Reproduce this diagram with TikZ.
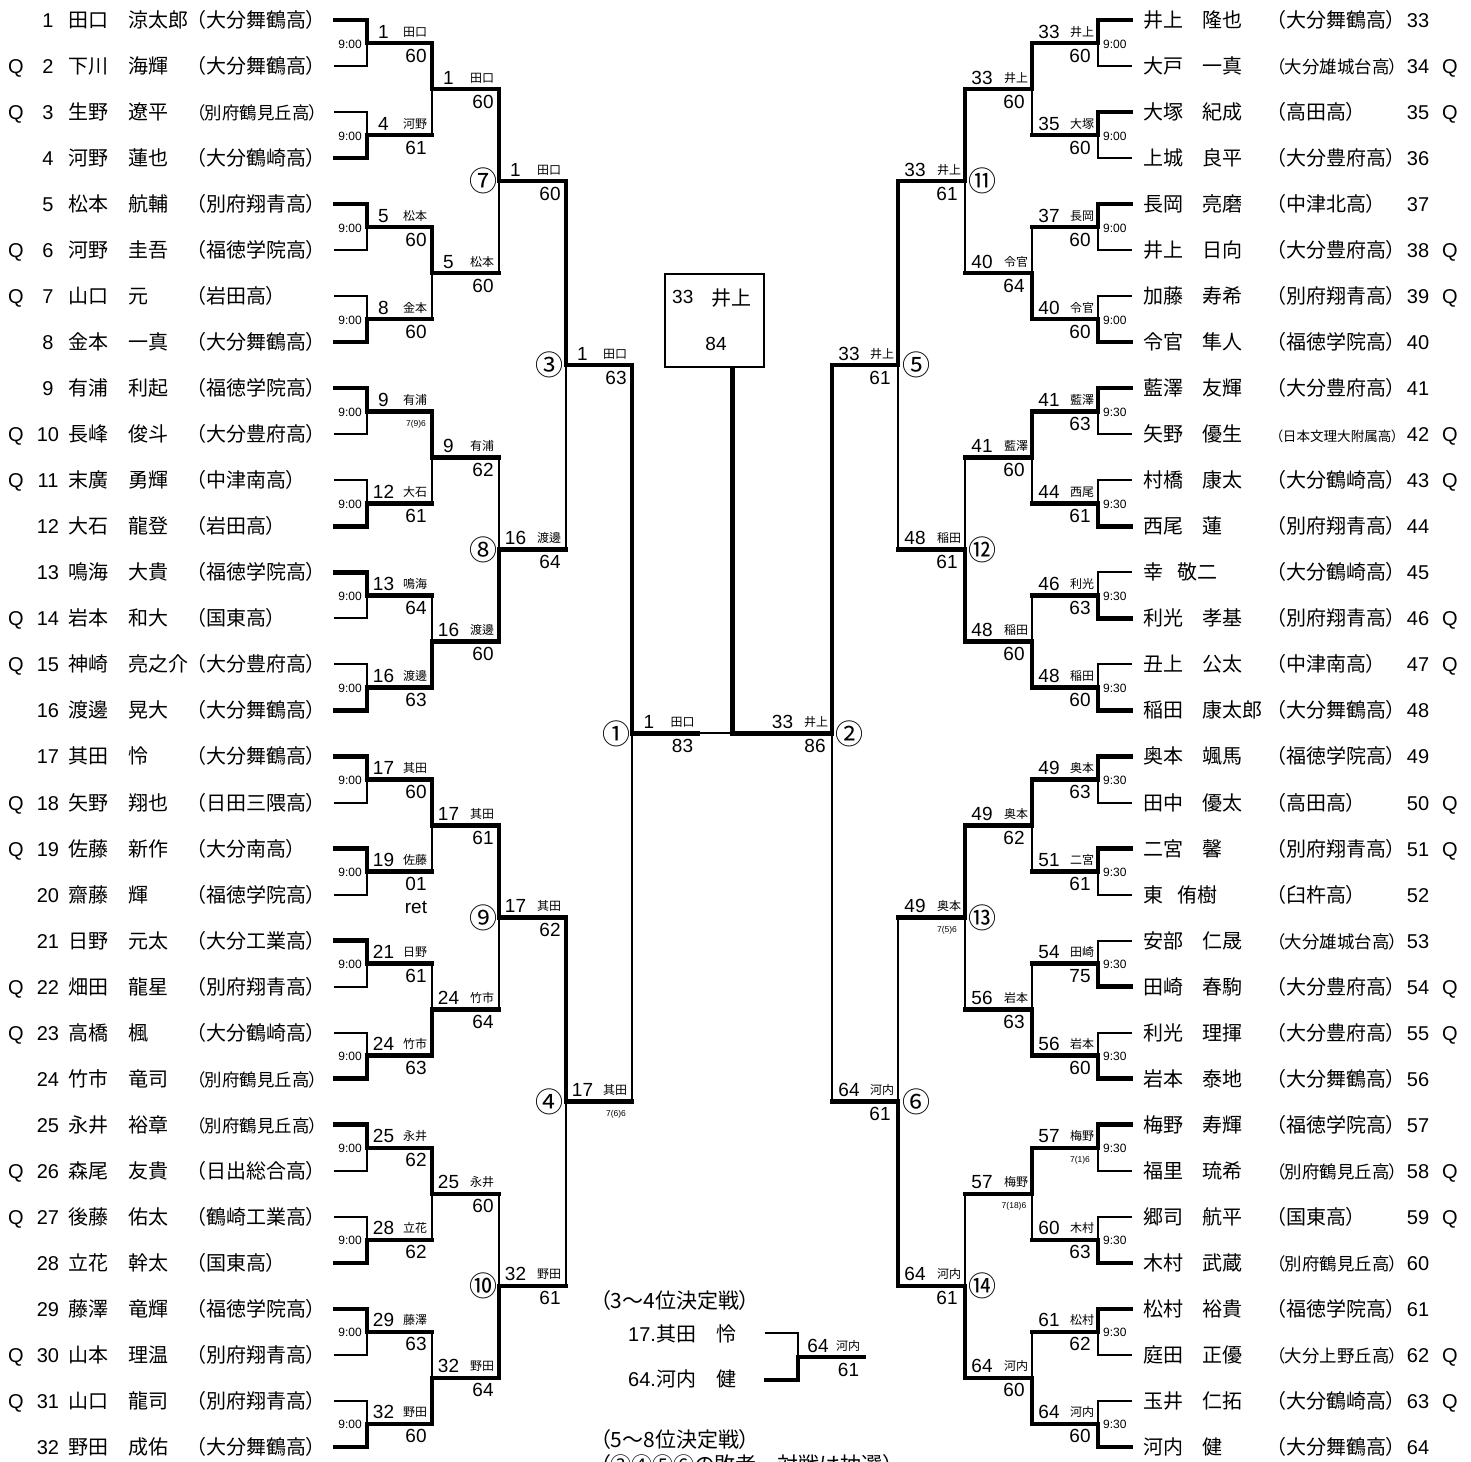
\documentclass[tikz,border=0pt]{standalone}
\usepackage{fontspec}
\usepackage{graphicx}
\setmainfont{Liberation Sans}
\newfontfamily\jp{Noto Sans CJK JP}
\newfontfamily\jpp[RawFeature=+palt]{Noto Sans CJK JP}
\newcommand\xl[1]{\ifcase#1 333\or 367\or 432\or 499\or 566\or 632\or 698\fi}
\newcommand\xr[1]{\ifcase#1 1133\or 1098\or 1032\or 965\or 898\or 832\or 766\fi}
\newsavebox\schbox
\newcommand\school[1]{\sbox\schbox{\jpp （#1）}\ifdim\wd\schbox>122pt\relax\resizebox{122pt}{!}{\usebox\schbox}\else\usebox\schbox\fi}
\newcommand\tbk[1]{\raisebox{4pt}{\fontsize{8.5}{9}\selectfont #1}}
\tikzset{
  thn/.style={line width=2pt, line cap=rect},
  thk/.style={line width=4.5pt, line cap=rect},
  pnum/.style={font=\fontsize{20}{24}\selectfont, inner sep=0pt, anchor=base},
  pname/.style={font=\jp\fontsize{20}{24}\selectfont, inner sep=0pt, anchor=base west},
  wnum/.style={font=\fontsize{19}{22}\selectfont, inner sep=0pt, anchor=base},
  sname/.style={font=\jp\fontsize{12}{14}\selectfont, inner sep=0pt, anchor=base},
  score/.style={font=\fontsize{19}{22}\selectfont, inner sep=0pt, anchor=base},
  tm/.style={font=\fontsize{12}{14}\selectfont, inner sep=0pt},
  circ/.style={font=\jp\fontsize{28}{30}\selectfont, inner sep=0pt, anchor=center},
  hdr/.style={font=\jpp\fontsize{21}{24}\selectfont, inner sep=0pt, anchor=base west},
}
\newcommand\Lmatch[6]{%
  \pgfmathsetmacro\bya{20+46.03*((2*#2-2)*2^(#1-1)+(2^(#1-1)-1)/2)}%
  \pgfmathsetmacro\byb{20+46.03*((2*#2-1)*2^(#1-1)+(2^(#1-1)-1)/2)}%
  \pgfmathsetmacro\bym{20+46.03*((#2-1)*2^(#1)+(2^(#1)-1)/2)}%
  \pgfmathtruncatemacro\bnn{#1+1}%
  \edef\bva{\xl{#1}}\edef\bvb{\xl{\bnn}}%
  \coordinate (L#1-#2t) at (\bva,\bya);
  \coordinate (L#1-#2b) at (\bva,\byb);
  \coordinate (L#1-#2m) at (\bva,\bym);
  \coordinate (L#1-#2o) at (\bvb,\bym);
  \draw[thn] (L#1-#2t) -- (L#1-#2b);
  \ifnum#3=0 \draw[thk] (L#1-#2t) -- (L#1-#2m) -- (L#1-#2o);\else\draw[thk] (L#1-#2b) -- (L#1-#2m) -- (L#1-#2o);\fi
  \node[wnum] (L#1-#2n) at (\bva+16.5,\bym-5) {#4};
  \node[sname] (L#1-#2s) at (\bvb-17,\bym-7) {#5};
  \node[score] (L#1-#2c) at (\bvb-16,\bym+19) {#6};
}
\newcommand\Rmatch[6]{%
  \pgfmathsetmacro\bya{20+46.03*((2*#2-2)*2^(#1-1)+(2^(#1-1)-1)/2)}%
  \pgfmathsetmacro\byb{20+46.03*((2*#2-1)*2^(#1-1)+(2^(#1-1)-1)/2)}%
  \pgfmathsetmacro\bym{20+46.03*((#2-1)*2^(#1)+(2^(#1)-1)/2)}%
  \pgfmathtruncatemacro\bnn{#1+1}%
  \edef\bva{\xr{#1}}\edef\bvb{\xr{\bnn}}%
  \coordinate (R#1-#2t) at (\bva,\bya);
  \coordinate (R#1-#2b) at (\bva,\byb);
  \coordinate (R#1-#2m) at (\bva,\bym);
  \coordinate (R#1-#2o) at (\bvb,\bym);
  \draw[thn] (R#1-#2t) -- (R#1-#2b);
  \ifnum#3=0 \draw[thk] (R#1-#2t) -- (R#1-#2m) -- (R#1-#2o);\else\draw[thk] (R#1-#2b) -- (R#1-#2m) -- (R#1-#2o);\fi
  \node[wnum] (R#1-#2n) at (\bvb+17,\bym-5) {#4};
  \node[sname] (R#1-#2s) at (\bva-16,\bym-7) {#5};
  \node[score] (R#1-#2c) at (\bva-18,\bym+19) {#6};
}
\begin{document}
\begin{tikzpicture}[x=1pt,y=-1pt]
\fill[white] (0,0) rectangle (1471,1461);
\useasboundingbox (0,0) rectangle (1471,1461);
% ---------- left players
\foreach \i/\q/\sn/\gn/\sc/\w in {
1/{}/田口/涼太郎/大分舞鶴高/1,
2/Q/下川/海輝/大分舞鶴高/0,
3/Q/生野/遼平/別府鶴見丘高/0,
4/{}/河野/蓮也/大分鶴崎高/1,
5/{}/松本/航輔/別府翔青高/1,
6/Q/河野/圭吾/福徳学院高/0,
7/Q/山口/元/岩田高/0,
8/{}/金本/一真/大分舞鶴高/1,
9/{}/有浦/利起/福徳学院高/1,
10/Q/長峰/俊斗/大分豊府高/0,
11/Q/末廣/勇輝/中津南高/0,
12/{}/大石/龍登/岩田高/1,
13/{}/鳴海/大貴/福徳学院高/1,
14/Q/岩本/和大/国東高/0,
15/Q/神崎/亮之介/大分豊府高/0,
16/{}/渡邊/晃大/大分舞鶴高/1,
17/{}/其田/怜/大分舞鶴高/1,
18/Q/矢野/翔也/日田三隈高/0,
19/Q/佐藤/新作/大分南高/1,
20/{}/齋藤/輝/福徳学院高/0,
21/{}/日野/元太/大分工業高/1,
22/Q/畑田/龍星/別府翔青高/0,
23/Q/高橋/楓/大分鶴崎高/0,
24/{}/竹市/竜司/別府鶴見丘高/1,
25/{}/永井/裕章/別府鶴見丘高/1,
26/Q/森尾/友貴/日出総合高/0,
27/Q/後藤/佑太/鶴崎工業高/0,
28/{}/立花/幹太/国東高/1,
29/{}/藤澤/竜輝/福徳学院高/1,
30/Q/山本/理温/別府翔青高/0,
31/Q/山口/龍司/別府翔青高/0,
32/{}/野田/成佑/大分舞鶴高/1}{
  \pgfmathsetmacro\py{20+46.03*(\i-1)}
  \coordinate (LPa\i) at (335,\py);
  \coordinate (LPb\i) at (367,\py);
  \ifnum\w=1 \draw[thk] (LPa\i) -- (LPb\i);\else\draw[thn] (LPa\i) -- (LPb\i);\fi
  \node[pnum] (LPq\i) at (16,\py+7.5) {\q};
  \node[pnum] (LPn\i) at (48,\py+7.5) {\i};
  \node[pname] (LPs\i) at (68,\py+7.5) {\sn};
  \node[pname] (LPg\i) at (128,\py+7.5) {\gn};
  \node[pname] (LPc\i) at (196,\py+7.5) {\school{\sc}};
}
% ---------- right players
\foreach \i/\q/\sn/\gn/\gx/\sc/\w in {
33/{}/井上/隆也/1202/大分舞鶴高/1,
34/Q/大戸/一真/1202/大分雄城台高/0,
35/Q/大塚/紀成/1202/高田高/1,
36/{}/上城/良平/1202/大分豊府高/0,
37/{}/長岡/亮磨/1202/中津北高/1,
38/Q/井上/日向/1202/大分豊府高/0,
39/Q/加藤/寿希/1202/別府翔青高/0,
40/{}/令官/隼人/1202/福徳学院高/1,
41/{}/藍澤/友輝/1202/大分豊府高/1,
42/Q/矢野/優生/1202/日本文理大附属高/0,
43/Q/村橋/康太/1202/大分鶴崎高/0,
44/{}/西尾/蓮/1202/別府翔青高/1,
45/{}/幸/敬二/1177/大分鶴崎高/0,
46/Q/利光/孝基/1202/別府翔青高/1,
47/Q/丑上/公太/1202/中津南高/0,
48/{}/稲田/康太郎/1202/大分舞鶴高/1,
49/{}/奥本/颯馬/1202/福徳学院高/1,
50/Q/田中/優太/1202/高田高/0,
51/Q/二宮/馨/1202/別府翔青高/1,
52/{}/東/侑樹/1177/臼杵高/0,
53/{}/安部/仁晟/1202/大分雄城台高/0,
54/Q/田崎/春駒/1202/大分豊府高/1,
55/Q/利光/理揮/1202/大分豊府高/0,
56/{}/岩本/泰地/1202/大分舞鶴高/1,
57/{}/梅野/寿輝/1202/福徳学院高/1,
58/Q/福里/琉希/1202/別府鶴見丘高/0,
59/Q/郷司/航平/1202/国東高/0,
60/{}/木村/武蔵/1202/別府鶴見丘高/1,
61/{}/松村/裕貴/1202/福徳学院高/1,
62/Q/庭田/正優/1202/大分上野丘高/0,
63/Q/玉井/仁拓/1202/大分鶴崎高/0,
64/{}/河内/健/1202/大分舞鶴高/1}{
  \pgfmathsetmacro\py{20+46.03*(\i-33)}
  \coordinate (RPa\i) at (1131,\py);
  \coordinate (RPb\i) at (1098,\py);
  \ifnum\w=1 \draw[thk] (RPa\i) -- (RPb\i);\else\draw[thn] (RPa\i) -- (RPb\i);\fi
  \node[pname] (RPs\i) at (1143,\py+7.5) {\sn};
  \node[pname] (RPg\i) at (\gx,\py+7.5) {\gn};
  \node[pname] (RPc\i) at (1276,\py+7.5) {\school{\sc}};
  \node[pnum] (RPn\i) at (1418,\py+7.5) {\i};
  \node[pnum] (RPq\i) at (1450,\py+7.5) {\q};
}
% ---------- times
\foreach \k in {1,...,16}{
  \pgfmathsetmacro\bym{20+46.03*(2*\k-1.5)}
  \node[tm,anchor=base east] (LT\k) at (362,\bym+5) {9:00};
  \node[tm,anchor=base west] (RT\k) at (1103,\bym+5) {\ifnum\k<5 9:00\else 9:30\fi};
}
% ---------- left rounds
\Lmatch{1}{1}{0}{1}{田口}{60}
\Lmatch{1}{2}{1}{4}{河野}{61}
\Lmatch{1}{3}{0}{5}{松本}{60}
\Lmatch{1}{4}{1}{8}{金本}{60}
\Lmatch{1}{5}{0}{9}{有浦}{\tbk{7(9)6}}
\Lmatch{1}{6}{1}{12}{大石}{61}
\Lmatch{1}{7}{0}{13}{鳴海}{64}
\Lmatch{1}{8}{1}{16}{渡邊}{63}
\Lmatch{1}{9}{0}{17}{其田}{60}
\Lmatch{1}{10}{0}{19}{佐藤}{01}
\Lmatch{1}{11}{0}{21}{日野}{61}
\Lmatch{1}{12}{1}{24}{竹市}{63}
\Lmatch{1}{13}{0}{25}{永井}{62}
\Lmatch{1}{14}{1}{28}{立花}{62}
\Lmatch{1}{15}{0}{29}{藤澤}{63}
\Lmatch{1}{16}{1}{32}{野田}{60}
\node[score] (Lret) at ([yshift=-23pt]L1-10c.base) {ret};
\Lmatch{2}{1}{0}{1}{田口}{60}
\Lmatch{2}{2}{0}{5}{松本}{60}
\Lmatch{2}{3}{0}{9}{有浦}{62}
\Lmatch{2}{4}{1}{16}{渡邊}{60}
\Lmatch{2}{5}{0}{17}{其田}{61}
\Lmatch{2}{6}{1}{24}{竹市}{64}
\Lmatch{2}{7}{0}{25}{永井}{60}
\Lmatch{2}{8}{1}{32}{野田}{64}
\Lmatch{3}{1}{0}{1}{田口}{60}
\Lmatch{3}{2}{1}{16}{渡邊}{64}
\Lmatch{3}{3}{0}{17}{其田}{62}
\Lmatch{3}{4}{1}{32}{野田}{61}
\Lmatch{4}{1}{0}{1}{田口}{63}
\Lmatch{4}{2}{0}{17}{其田}{\tbk{7(6)6}}
% ---------- right rounds
\Rmatch{1}{1}{0}{33}{井上}{60}
\Rmatch{1}{2}{0}{35}{大塚}{60}
\Rmatch{1}{3}{0}{37}{長岡}{60}
\Rmatch{1}{4}{1}{40}{令官}{60}
\Rmatch{1}{5}{0}{41}{藍澤}{63}
\Rmatch{1}{6}{1}{44}{西尾}{61}
\Rmatch{1}{7}{1}{46}{利光}{63}
\Rmatch{1}{8}{1}{48}{稲田}{60}
\Rmatch{1}{9}{0}{49}{奥本}{63}
\Rmatch{1}{10}{0}{51}{二宮}{61}
\Rmatch{1}{11}{1}{54}{田崎}{75}
\Rmatch{1}{12}{1}{56}{岩本}{60}
\Rmatch{1}{13}{0}{57}{梅野}{\tbk{7(1)6}}
\Rmatch{1}{14}{1}{60}{木村}{63}
\Rmatch{1}{15}{0}{61}{松村}{62}
\Rmatch{1}{16}{1}{64}{河内}{60}
\Rmatch{2}{1}{0}{33}{井上}{60}
\Rmatch{2}{2}{1}{40}{令官}{64}
\Rmatch{2}{3}{0}{41}{藍澤}{60}
\Rmatch{2}{4}{1}{48}{稲田}{60}
\Rmatch{2}{5}{0}{49}{奥本}{62}
\Rmatch{2}{6}{1}{56}{岩本}{63}
\Rmatch{2}{7}{0}{57}{梅野}{\tbk{7(18)6}}
\Rmatch{2}{8}{1}{64}{河内}{60}
\Rmatch{3}{1}{0}{33}{井上}{61}
\Rmatch{3}{2}{1}{48}{稲田}{61}
\Rmatch{3}{3}{0}{49}{奥本}{\tbk{7(5)6}}
\Rmatch{3}{4}{1}{64}{河内}{61}
\Rmatch{4}{1}{0}{33}{井上}{61}
\Rmatch{4}{2}{1}{64}{河内}{61}
% ---------- semifinals and final
\pgfmathsetmacro\yq{20+46.03*7.5}
\pgfmathsetmacro\yqq{20+46.03*23.5}
\pgfmathsetmacro\yf{20+46.03*15.5}
\coordinate (LFt) at (632,\yq);
\coordinate (LFb) at (632,\yqq);
\coordinate (LFm) at (632,\yf);
\coordinate (LFo) at (698,\yf);
\coordinate (FC) at (732.5,\yf);
\coordinate (RFt) at (832,\yq);
\coordinate (RFb) at (832,\yqq);
\coordinate (RFm) at (832,\yf);
\draw[thn] (LFt) -- (LFb);
\draw[thk] (LFt) -- (LFm) -- (LFo);
\draw[thn] (LFo) -- (FC);
\draw[thn] (RFt) -- (RFb);
\draw[thk] (RFt) -- (RFm) -- (FC);
\node[draw, line width=2pt, minimum width=99pt, minimum height=93pt, inner sep=0pt] (champ) at (714.5,320.5) {};
\draw[thk] (champ.south -| FC) -- (FC);
\node[font=\fontsize{19}{22}\selectfont, anchor=base west, inner sep=0pt] (champn) at (672,303.5) {33};
\node[font=\jp\fontsize{20}{24}\selectfont, anchor=base west, inner sep=0pt] (champs) at (711,305) {井上};
\node[score] (champc) at (716,350) {84};
\node[wnum] (LFn) at (649,728.5) {1};
\node[sname] (LFs) at (682.5,726.5) {田口};
\node[score] (LFc) at (682.5,752.5) {83};
\node[wnum] (RFn) at (782.5,728.5) {33};
\node[sname] (RFs) at (816,726.5) {井上};
\node[score] (RFc) at (815,752.5) {86};
% ---------- circled match numbers
\node[circ] (c7) at (483,181.1) {⑦};
\node[circ] (c8) at (483,549.4) {⑧};
\node[circ] (c9) at (483,917.6) {⑨};
\node[circ] (c10) at (483,1285.9) {⑩};
\node[circ] (c3) at (549,365.2) {③};
\node[circ] (c4) at (549,1101.7) {④};
\node[circ] (c1) at (616,733.5) {①};
\node[circ] (c11) at (982,181.1) {⑪};
\node[circ] (c12) at (982,549.4) {⑫};
\node[circ] (c13) at (982,917.6) {⑬};
\node[circ] (c14) at (982,1285.9) {⑭};
\node[circ] (c5) at (916,365.2) {⑤};
\node[circ] (c6) at (916,1101.7) {⑥};
\node[circ] (c2) at (849,733.5) {②};
% ---------- 3rd place
\node[hdr] (h34) at (600,1308) {（3～4位決定戦）};
\node[pname] (t17) at (628,1341) {{\rmfamily 17.}其田　怜};
\node[pname] (t64) at (628,1386) {{\rmfamily 64.}河内　健};
\coordinate (T17a) at (766,1333);
\coordinate (T17b) at (798,1333);
\coordinate (T64a) at (766,1380);
\coordinate (T64b) at (798,1380);
\coordinate (T3m) at (798,1357);
\coordinate (T3o) at (864,1357);
\draw[thn] (T17a) -- (T17b) -- (T3m);
\draw[thk] (T64a) -- (T64b) -- (T3m) -- (T3o);
\node[wnum] (T3n) at (818,1352) {64};
\node[sname] (T3s) at (848,1350) {河内};
\node[score] (T3c) at (848.5,1376) {61};
\node[hdr] (h58) at (600,1447) {（5～8位決定戦）};
\node[hdr] (h58b) at (600,1472) {（③④⑤⑥の敗者　対戦は抽選）};
\end{tikzpicture}
\end{document}
